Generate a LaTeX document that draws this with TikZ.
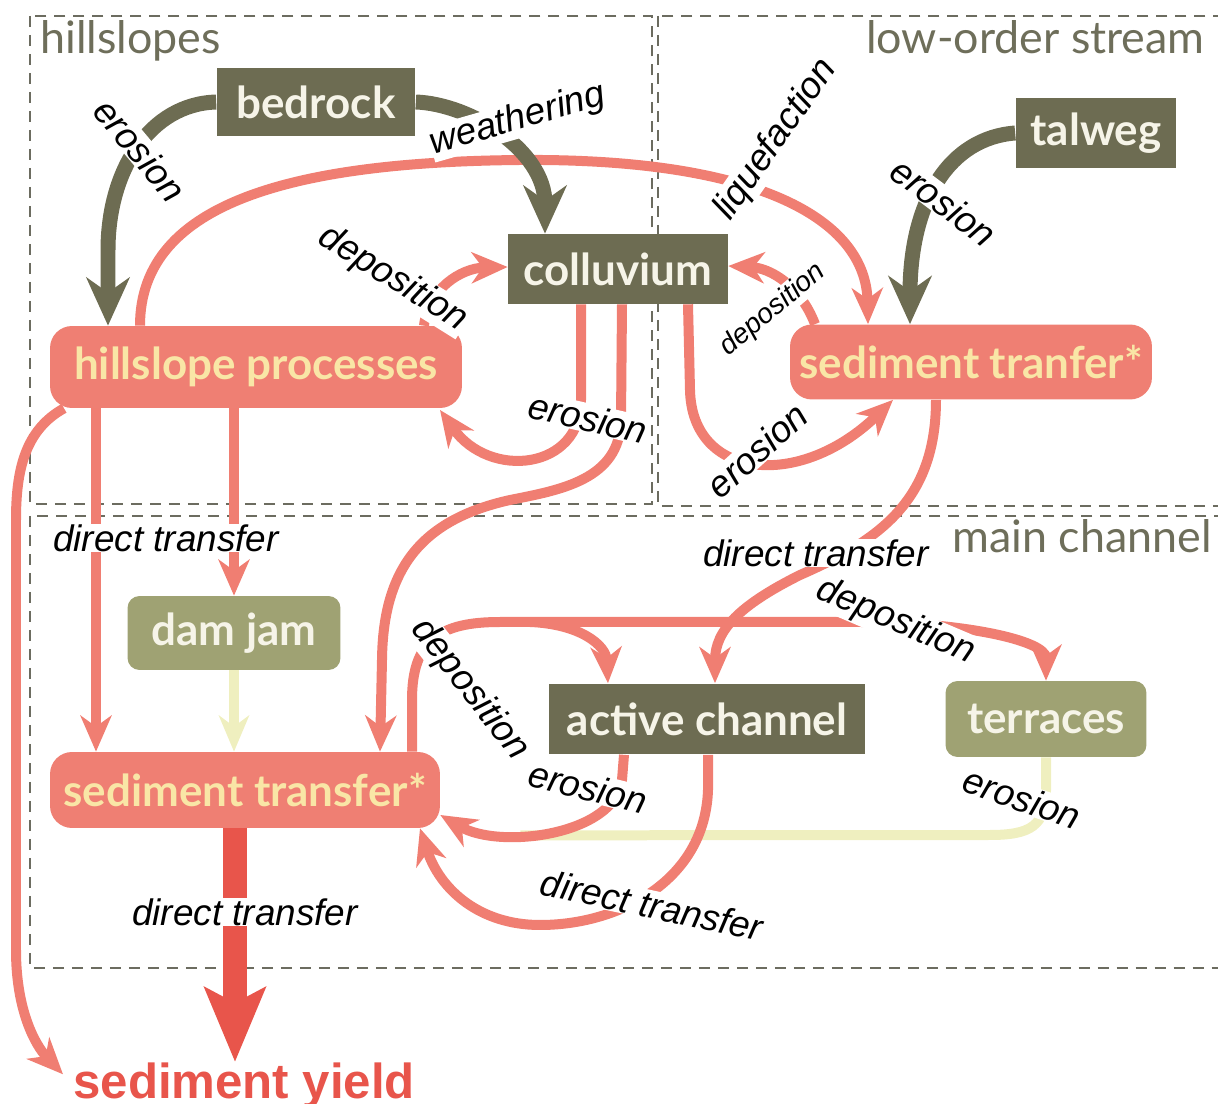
\documentclass[tikz,border=0pt]{standalone}
\usepackage{fontspec}
\setmainfont{Liberation Sans}
\newfontfamily\boxfont{Lato}
\usetikzlibrary{calc,positioning,arrows.meta,shapes}
\pgfdeclarelayer{back}
\pgfsetlayers{back,main}

\definecolor{darkolive}{HTML}{6D6C52}
\definecolor{sageolive}{HTML}{9FA273}
\definecolor{salmonfill}{HTML}{EF7F73}
\definecolor{salmonline}{HTML}{F07E72}
\definecolor{yieldred}{HTML}{E8554B}
\definecolor{paleline}{HTML}{EFEFBF}
\definecolor{creamtext}{HTML}{F9E6A6}
\definecolor{boxtext}{HTML}{F6F4E8}
\definecolor{framegrey}{HTML}{6C6C60}
\definecolor{titlegrey}{HTML}{6E6E5A}

\tikzset{
  region/.style={draw=framegrey, line width=1.5pt, dash pattern=on 0.22cm off 0.16cm},
  regiontitle/.style={text=titlegrey, inner sep=0pt, font=\boxfont\fontsize{25.5}{28}\selectfont},
  boxbase/.style={inner sep=0pt, font=\boxfont\bfseries\fontsize{25}{28}\selectfont},
  darkbox/.style={boxbase, fill=darkolive, text=boxtext},
  sagebox/.style={boxbase, fill=sageolive, text=boxtext, rounded corners=0.24cm},
  salmonbox/.style={boxbase, fill=salmonfill, text=creamtext, rounded corners=0.44cm},
  olivearrow/.style={draw=darkolive, line width=0.3cm, -{Stealth[length=0.96cm, width=0.86cm, inset=0.3cm]}},
  flowarrow/.style={draw=salmonline, line width=0.2cm, -{Stealth[length=0.72cm, width=0.62cm, inset=0.22cm]}},
  palearrow/.style={draw=paleline, line width=0.2cm},
  yieldarrow/.style={draw=yieldred, line width=0.48cm, -{Stealth[length=1.48cm, width=1.2cm, inset=0.3cm]}},
  flowlabel/.style={fill=white, inner sep=0.5pt, font=\itshape\fontsize{21}{24}\selectfont},
}

\begin{document}
\begin{tikzpicture}[x=0.02cm, y=-0.02cm]

  \useasboundingbox (0,0) rectangle (1218,1104);

  % region titles
  \node [regiontitle, anchor=base west] at (40,54) (title_hill) {hillslopes};
  \node [regiontitle, anchor=base east] at (1205,54) (title_low) {low-order stream};
  \node [regiontitle, anchor=base east] at (1212,553) (title_main) {main channel};

  % boxes
  \node [darkbox, minimum width=3.98cm, minimum height=1.38cm] at (316,102) (bedrock) {bedrock};
  \node [darkbox, minimum width=4.4cm, minimum height=1.4cm] at (618,269) (coll) {colluvium};
  \node [darkbox, minimum width=3.22cm, minimum height=1.42cm] at (1096,133) (talweg) {talweg};
  \node [salmonbox, minimum width=8.24cm, minimum height=1.64cm] at (256,367) (hillproc) {hillslope processes};
  \node [salmonbox, minimum width=7.24cm, minimum height=1.5cm] at (971,362) (sedtop) {sediment tranfer*};
  \node [sagebox, minimum width=4.26cm, minimum height=1.48cm] at (234,633) (damjam) {dam jam};
  \node [darkbox, minimum width=6.34cm, minimum height=1.42cm] at (707,719) (active) {active channel};
  \node [sagebox, minimum width=4.02cm, minimum height=1.52cm] at (1046,719) (terraces) {terraces};
  \node [salmonbox, minimum width=7.8cm, minimum height=1.52cm] at (245,790) (sedlow) {sediment transfer*};
  \node [anchor=base west, inner sep=0pt, text=yieldred, font=\bfseries\fontsize{28}{30}\selectfont] at (73,1098) (yield) {sediment yield};

  % labels
  \node [flowlabel, rotate=-50] at (140,150) (ero_bedrock) {erosion};
  \node [flowlabel, rotate=16] at (518,120) (weath) {weathering};
  \node [flowlabel, rotate=-37] at (944,202) (ero_talweg) {erosion};
  \node [flowlabel, rotate=55] at (776,140) (liq) {liquefaction};
  \node [flowlabel, rotate=-32] at (393,279) (dep_hill) {deposition};
  \node [flowlabel, rotate=-13] at (588,418) (ero_coll_hill) {erosion};
  \node [flowlabel, rotate=42] at (757,450) (ero_coll_sed) {erosion};
  \node [flowlabel, rotate=40, font=\itshape\fontsize{16}{18}\selectfont] at (773,310) (dep_coll) {deposition};
  \node [flowlabel] at (166,538) (dt_hill) {direct transfer};
  \node [flowlabel] at (816,553) (dt_sed) {direct transfer};
  \node [flowlabel] at (245,912) (dt_yield) {direct transfer};
  \node [flowlabel, rotate=-52] at (470,690) (dep_low) {deposition};
  \node [flowlabel, rotate=-14] at (588,787) (ero_active) {erosion};
  \node [flowlabel, rotate=-12] at (652,905) (dt_active) {direct transfer};
  \node [flowlabel, rotate=-23] at (896,622) (dep_terr) {deposition};
  \node [flowlabel, rotate=-19] at (1022,798) (ero_terr) {erosion};

  \begin{pgfonlayer}{back}
    \draw [region] (30,16) rectangle (652,504);
    \draw [region] (658,16) rectangle (1230,506);
    \draw [region] (30,516) rectangle (1230,968);

    % pale flows
    \draw [palearrow] (1046,0 |- terraces.south) -- (1046,790) .. controls (1046,826) and (1030,835) .. (990,835) -- ($(sedlow.south east)+(80,7)$);
    \draw [palearrow, -{Stealth[length=0.72cm, width=0.6cm, inset=0.22cm]}] (damjam.south) -- (234,0 |- sedlow.north);

    % salmon flows
    \draw [flowarrow] (140,0 |- hillproc.north) .. controls (140,200) and (300,162) .. (520,160) .. controls (760,158) and (866,220) .. (868,0 |- sedtop.north);
    \draw [flowarrow] (424,0 |- hillproc.north) .. controls (428,290) and (460,268) .. (0,267 -| coll.west);
    \draw [flowarrow] (581,0 |- coll.south) -- (581,400) .. controls (581,470) and (490,480) .. (440,410);
    \draw [flowarrow] (622,0 |- coll.south) -- (621,420) .. controls (620,480) and (560,490) .. (510,500) .. controls (420,520) and (383,570) .. (382,660) -- (380,0 |- sedlow.north);
    \draw [flowarrow] (688,0 |- coll.south) -- (690,390) .. controls (692,480) and (800,490) .. (893,0 |- sedtop.south);
    \draw [flowarrow] (815,0 |- sedtop.north) .. controls (800,285) and (770,268) .. (0,266 -| coll.east);
    \draw [flowarrow] (64,0 |- hillproc.south) .. controls (25,430) and (16,470) .. (16,520) -- (16,950) .. controls (16,1010) and (35,1045) .. ($(yield.west)+(-10,-11)$);
    \draw [flowarrow] (96,0 |- hillproc.south) -- (96,0 |- sedlow.north);
    \draw [flowarrow] (234,0 |- hillproc.south) -- (damjam.north);
    \draw [flowarrow] (936,0 |- sedtop.south) .. controls (936,500) and (880,540) .. (800,575) .. controls (740,605) and (715,630) .. (715,0 |- active.north);
    \draw [flowarrow] (412,0 |- sedlow.north) -- (412,700) .. controls (412,640) and (440,622) .. (500,622) -- (860,622) .. controls (960,622) and (1046,640) .. (1046,0 |- terraces.north);
    \draw [flowarrow] (530,622) .. controls (580,624) and (606,645) .. (608,0 |- active.north);
    \draw [flowarrow] (624,0 |- active.south) -- (622,780) .. controls (615,835) and (500,850) .. (sedlow.east |- 0,815);
    \draw [flowarrow] (708,0 |- active.south) -- (708,790) .. controls (705,880) and (620,925) .. (540,925) .. controls (480,925) and (440,890) .. (420,0 |- sedlow.south);
    \draw [yieldarrow] (235,0 |- sedlow.south) -- (235,0 |- yield.north);

    % olive flows
    \draw [olivearrow] (bedrock.west) .. controls (150,104) and (108,170) .. (108,250) -- (108,0 |- hillproc.north);
    \draw [olivearrow] (bedrock.east) .. controls (470,104) and (545,150) .. (545,0 |- coll.north);
    \draw [olivearrow] (talweg.west) .. controls (950,138) and (910,200) .. (910,0 |- sedtop.north);
  \end{pgfonlayer}

\end{tikzpicture}
\end{document}
